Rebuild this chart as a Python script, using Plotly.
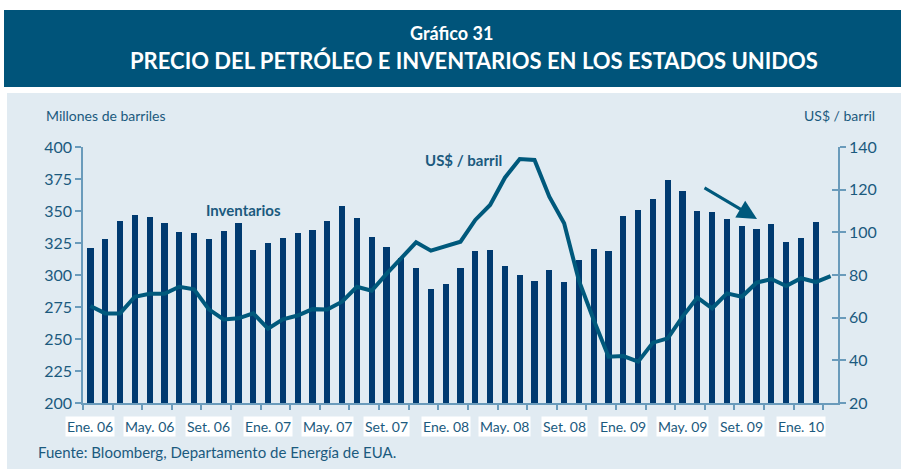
import plotly.graph_objects as go

# ---------------- data ----------------
inventarios = [321, 328, 342.5, 346.5, 345.5, 341, 333.5, 332.5, 328, 334,
               340.5, 319.5, 325, 329, 332.5, 335.5, 342, 354, 344.5, 330,
               322, 313, 305.3, 289.4, 293, 305.5, 319, 319.8, 306.8, 300,
               295.3, 304, 294.5, 311.7, 320.3, 318.8, 346, 350.6, 359.2, 374.6,
               366, 350.2, 349.4, 343.4, 338.2, 335.9, 339.8, 326, 329, 341.5]
precio = [65.5, 62.0, 62.0, 69.8, 71.2, 71.2, 74.5, 73.3, 63.9, 59.2,
          59.7, 62.0, 54.8, 59.2, 61.0, 64.0, 63.8, 67.5, 74.5, 72.6,
          80.5, 87.6, 95.3, 91.4, 93.3, 95.6, 105.8, 112.8, 125.6, 134.4,
          133.9, 116.7, 104.2, 77.3, 58.9, 41.7, 42.0, 39.4, 48.3, 50.3,
          60.5, 69.4, 64.4, 71.4, 69.8, 76.4, 78.1, 74.8, 78.5, 76.7, 79.5]
bar_pos = list(range(len(inventarios)))
line_pos = list(range(len(precio)))
tick_labels = ["Ene. 06", "May. 06", "Set. 06", "Ene. 07", "May. 07", "Set. 07",
               "Ene. 08", "May. 08", "Set. 08", "Ene. 09", "May. 09", "Set. 09", "Ene. 10"]
tick_label_pos = [0, 4, 8, 12, 16, 20, 24, 28, 32, 36, 40, 44, 48]
minor_ticks = [-0.5 + 2 * k for k in range(26)]

# ---------------- style ----------------
W, H = 901, 470
L, R, T, B = 83, 838, 147, 403
BANNER = "#00547A"
BG = "#E1EBF2"
BAR = "#003A70"
LINE = "#00597C"
TXT = "#1B5A7E"
AXIS = "#6A9BBB"
FONT = "Lato, 'Open Sans', sans-serif"
TFONT = "Lato, 'Open Sans', sans-serif"


def fx(p):
    return (p - L) / (R - L)


def fy(p):
    return (B - p) / (B - T)


fig = go.Figure()
fig.add_trace(go.Bar(x=bar_pos, y=inventarios, width=0.42,
                     marker=dict(color=BAR, line=dict(width=0)),
                     yaxis="y", name="Inventarios"))
fig.add_trace(go.Scatter(x=line_pos, y=precio, mode="lines",
                         line=dict(color=LINE, width=4),
                         yaxis="y2", name="US$ / barril"))
# empty helper trace so the inner tick half of the right axis is drawn
fig.add_trace(go.Scatter(x=[], y=[], yaxis="y3", showlegend=False, hoverinfo="skip"))

shapes = [
    dict(type="rect", xref="paper", yref="paper", x0=fx(4), x1=fx(W + 5),
         y0=fy(87), y1=fy(10), fillcolor=BANNER, line=dict(width=0), layer="below"),
    dict(type="rect", xref="paper", yref="paper", x0=fx(7), x1=fx(W + 5),
         y0=fy(469), y1=fy(93), fillcolor=BG, line=dict(width=0), layer="below"),
]

ann = [
    dict(text="<b>Gráfico 31</b>", x=fx(451), y=fy(33), font=dict(family=TFONT, size=18, color="white")),
    dict(text="<b>PRECIO DEL PETRÓLEO E INVENTARIOS EN LOS ESTADOS UNIDOS</b>", x=fx(474), y=fy(60),
         font=dict(family=TFONT, size=22, color="white")),
    dict(text="Millones de barriles", x=fx(44), y=fy(115), xanchor="left",
         font=dict(family=FONT, size=14, color=TXT)),
    dict(text="US$ / barril", x=fx(877), y=fy(115), xanchor="right",
         font=dict(family=FONT, size=14, color=TXT)),
    dict(text="<b>Inventarios</b>", x=fx(243), y=fy(210),
         font=dict(family=FONT, size=15, color=TXT)),
    dict(text="<b>US$ / barril</b>", x=fx(463), y=fy(160),
         font=dict(family=FONT, size=15, color=TXT)),
    dict(text="Fuente: Bloomberg, Departamento de Energía de EUA.", x=fx(36), y=fy(452),
         xanchor="left", font=dict(family=FONT, size=15, color=TXT)),
]
for a in ann:
    a.setdefault("xanchor", "center")
    a.update(xref="paper", yref="paper", showarrow=False, yanchor="middle")
for lab, pos in zip(tick_labels, tick_label_pos):
    ann.append(dict(text=lab, x=pos, xref="x", y=fy(426), yref="paper", showarrow=False,
                    xanchor="center", yanchor="middle", bgcolor="white", borderpad=1,
                    font=dict(family=FONT, size=14, color=TXT)))
ann.append(dict(x=fx(757), y=fy(219), xref="paper", yref="paper", ax=-54, ay=-32,
                showarrow=True, arrowhead=2, arrowsize=1.3, arrowwidth=3,
                arrowcolor=LINE, text=""))

fig.update_layout(
    width=W, height=H,
    margin=dict(l=L, r=W - R, t=T, b=H - B, pad=0),
    paper_bgcolor="white", plot_bgcolor="rgba(0,0,0,0)",
    showlegend=False, bargap=0,
    shapes=shapes, annotations=ann,
    font=dict(family=FONT, color=TXT),
    xaxis=dict(range=[-0.5, 50.5], showgrid=False, zeroline=False,
               tickmode="array", tickvals=minor_ticks, showticklabels=False,
               ticks="outside", ticklen=5, tickcolor=AXIS, tickwidth=1.5,
               showline=True, linecolor=AXIS, linewidth=1.5),
    yaxis=dict(range=[200, 400], dtick=25, tick0=200, showgrid=False, zeroline=False,
               ticks="outside", ticklen=6, tickcolor=AXIS, tickwidth=1.5,
               showline=True, linecolor=AXIS, linewidth=1.5,
               tickfont=dict(family=FONT, size=16, color=TXT)),
    yaxis2=dict(range=[20, 140], dtick=20, tick0=20, overlaying="y", side="right",
                showgrid=False, zeroline=False,
                ticks="outside", ticklen=6, tickcolor=AXIS, tickwidth=1.5,
                showline=True, linecolor=AXIS, linewidth=1.5,
                tickfont=dict(family=FONT, size=16, color=TXT)),
    yaxis3=dict(range=[20, 140], dtick=20, tick0=20, overlaying="y", side="right",
                showgrid=False, zeroline=False, showticklabels=False,
                ticks="inside", ticklen=6, tickcolor=AXIS, tickwidth=1.5,
                showline=False),
)

fig.write_html("out.html", config={"displayModeBar": False},
               post_script="document.body.style.margin='0';")
